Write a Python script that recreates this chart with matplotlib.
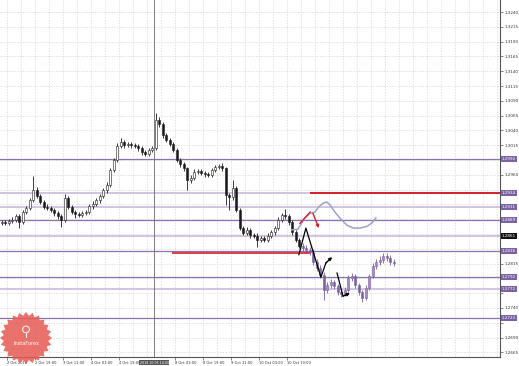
import numpy as np
import matplotlib
matplotlib.use("Agg")
import matplotlib.pyplot as plt
from matplotlib.patches import Polygon, Circle

# ===== DADOS =====
hist_open0 = 1.2883
hist_close = [1.2885, 1.2884, 1.2887, 1.2889, 1.2895, 1.2885, 1.2902, 1.2909, 1.2922, 1.2939,
              1.2929, 1.2919, 1.2911, 1.2909, 1.2906, 1.2900, 1.2895, 1.2889, 1.2926, 1.2911,
              1.2902, 1.2899, 1.2897, 1.2900, 1.2902, 1.2912, 1.2916, 1.2922, 1.2929, 1.2939,
              1.2948, 1.2973, 1.2990, 1.3014, 1.3020, 1.3015, 1.3017, 1.3015, 1.3014, 1.3010,
              1.3003, 1.3000, 1.3007, 1.3010, 1.3058, 1.3051, 1.3032, 1.3024, 1.3017, 1.3007,
              1.2990, 1.2983, 1.2976, 1.2956, 1.2960, 1.2970, 1.2971, 1.2968, 1.2966, 1.2965,
              1.2973, 1.2978, 1.2980, 1.2976, 1.2931, 1.2927, 1.2943, 1.2906, 1.2875, 1.2867,
              1.2872, 1.2863, 1.2862, 1.2855, 1.2858, 1.2855, 1.2862, 1.2868, 1.2875, 1.2889,
              1.2897, 1.2895, 1.2885, 1.2868, 1.2855, 1.2845]
hist_high = [1.2888, 1.2888, 1.2890, 1.2893, 1.2899, 1.2898, 1.2905, 1.2913, 1.2926, 1.2963,
             1.2945, 1.2932, 1.2922, 1.2915, 1.2913, 1.2909, 1.2904, 1.2898, 1.2933, 1.2929,
             1.2914, 1.2906, 1.2903, 1.2904, 1.2906, 1.2915, 1.2920, 1.2926, 1.2933, 1.2943,
             1.2953, 1.2977, 1.2994, 1.3018, 1.3027, 1.3024, 1.3021, 1.3021, 1.3019, 1.3017,
             1.3013, 1.3007, 1.3011, 1.3014, 1.3069, 1.3063, 1.3054, 1.3036, 1.3028, 1.3020,
             1.3010, 1.2994, 1.2987, 1.2979, 1.2964, 1.2974, 1.2975, 1.2975, 1.2971, 1.2970,
             1.2977, 1.2982, 1.2984, 1.2985, 1.2979, 1.2935, 1.2956, 1.2946, 1.2909, 1.2879,
             1.2876, 1.2875, 1.2867, 1.2866, 1.2862, 1.2862, 1.2866, 1.2872, 1.2879, 1.2893,
             1.2901, 1.2907, 1.2899, 1.2889, 1.2872, 1.2859]
hist_low = [1.2880, 1.2881, 1.2881, 1.2884, 1.2886, 1.2875, 1.2882, 1.2899, 1.2906, 1.2919,
            1.2925, 1.2915, 1.2907, 1.2905, 1.2902, 1.2896, 1.2890, 1.2877, 1.2886, 1.2907,
            1.2898, 1.2892, 1.2893, 1.2894, 1.2897, 1.2899, 1.2908, 1.2913, 1.2918, 1.2925,
            1.2935, 1.2945, 1.2969, 1.2987, 1.3010, 1.3011, 1.3012, 1.3011, 1.3010, 1.3006,
            1.2999, 1.2996, 1.2997, 1.3003, 1.3007, 1.3046, 1.3028, 1.3020, 1.3013, 1.3003,
            1.2986, 1.2979, 1.2972, 1.2939, 1.2951, 1.2956, 1.2966, 1.2964, 1.2962, 1.2961,
            1.2962, 1.2970, 1.2975, 1.2972, 1.2914, 1.2906, 1.2923, 1.2902, 1.2871, 1.2863,
            1.2863, 1.2859, 1.2858, 1.2843, 1.2851, 1.2851, 1.2852, 1.2858, 1.2864, 1.2871,
            1.2885, 1.2891, 1.2881, 1.2864, 1.2851, 1.2841]

# projeção (velas roxas)
proj_close = [1.2841, 1.2838, 1.2835, 1.2818, 1.2808, 1.2796, 1.2770, 1.2779, 1.2784, 1.2777,
              1.2767, 1.2764, 1.2770, 1.2791, 1.2794, 1.2779, 1.2767, 1.2757, 1.2774, 1.2794,
              1.2811, 1.2818, 1.2821, 1.2828, 1.2824, 1.2818, 1.2816]
proj_high = [1.2850, 1.2846, 1.2843, 1.2839, 1.2823, 1.2812, 1.2800, 1.2784, 1.2789, 1.2788,
             1.2781, 1.2772, 1.2775, 1.2796, 1.2799, 1.2798, 1.2783, 1.2771, 1.2779, 1.2798,
             1.2816, 1.2823, 1.2827, 1.2833, 1.2833, 1.2829, 1.2822]
proj_low = [1.2836, 1.2833, 1.2829, 1.2813, 1.2803, 1.2790, 1.2753, 1.2765, 1.2774, 1.2772,
            1.2762, 1.2759, 1.2760, 1.2766, 1.2786, 1.2774, 1.2762, 1.2750, 1.2753, 1.2770,
            1.2790, 1.2806, 1.2813, 1.2816, 1.2819, 1.2813, 1.2811]

# curva de previsão (azul acinzentado)
wave_x = [82.8, 84.6, 86.6, 88.1, 89.5, 90.6, 91.8, 92.9, 93.8, 95.2, 96.6, 98.6, 100.4, 102.4, 104.4, 105.8, 106.9]
wave_y = [1.2872, 1.2873, 1.2892, 1.2900, 1.2902, 1.2911, 1.2917, 1.2919, 1.2914, 1.2902,
          1.2892, 1.2880, 1.2875, 1.2875, 1.2878, 1.2884, 1.2892]

# setas
red_x1, red_y1 = [85.2, 88.1], [1.2883, 1.2902]
red_x2, red_y2 = [88.9, 90.6], [1.2900, 1.2875]
blk_x1, blk_y1 = [84.9, 86.9, 91.2, 92.6, 94.4], [1.2830, 1.2875, 1.2792, 1.2816, 1.2826]
blk_x2, blk_y2 = [95.8, 97.5, 99.5], [1.2799, 1.2760, 1.2765]

# níveis horizontais
levels_dark = [1.2992, 1.2889, 1.2836, 1.2792, 1.2723]
levels_light = [1.2934, 1.2911, 1.2861, 1.2772]
current_price = 1.2861
red_upper = (1.2934, 88.1)          # preço, início
red_lower = (1.2833, 48.6, 88.1)    # preço, início, fim

# eixos
y_ticks = [round(1.3240 - 0.0025 * k, 4) for k in range(24)]
x_tick_pos = [1.5, 9.5, 17.5, 25.5, 33.5, 49.5, 57.5, 65.5, 73.5, 81.5]
x_tick_lab = ["2 Oct 2018", "2 Oct 19:00", "3 Oct 11:00", "4 Oct 03:00", "4 Oct 19:00",
              "8 Oct 03:00", "8 Oct 19:00", "9 Oct 11:00", "10 Oct 03:00", "10 Oct 19:00"]
marker_x = 43.6
marker_lab = "2018.10.05 14:00"

PURPLE = "#8a72b0"
LIGHT = "#cdbfe0"
RED = "#d41f2c"


def candles(ax, x, o, c, h, l, up, down, wick):
    x = np.asarray(x); o = np.asarray(o); c = np.asarray(c)
    ax.vlines(x, l, h, color=wick, linewidth=0.6, zorder=4)
    body = np.where(np.abs(c - o) < 0.00005, 0.00005, c - o)
    cols = [up if cc >= oo else down for oo, cc in zip(o, c)]
    ax.bar(x, body, bottom=o, width=0.7, color=cols, edgecolor=wick, linewidth=0.4, zorder=5)


def main():
    fig = plt.figure(figsize=(5.19, 3.66), dpi=100)
    ax = fig.add_axes([0, 9 / 366, 500 / 519, 357 / 366])
    ax.set_xlim(-0.5, 142.36)
    ax.set_ylim(1.26572, 1.32603)

    # grade
    for yv in y_ticks:
        ax.axhline(yv, color="#dccfdc", linestyle=(0, (2, 2)), linewidth=0.5, zorder=0)
    for xv in np.arange(1.5, 142.4, 4):
        ax.axvline(xv, color="#dccfdc", linestyle=(0, (2, 2)), linewidth=0.5, zorder=0)

    # níveis
    for lv in levels_dark:
        ax.axhline(lv, color=PURPLE, linewidth=0.9, zorder=1)
    for lv in levels_light:
        ax.axhline(lv, color=LIGHT, linewidth=1.3, zorder=1)
    ax.hlines(red_upper[0], red_upper[1], 142.36, color=RED, linewidth=1.4, zorder=6)
    ax.hlines(red_lower[0], red_lower[1], red_lower[2], color=RED, linewidth=1.2, zorder=6)

    ax.axvline(marker_x, color="#6a6a6a", linewidth=0.6, zorder=1)

    # velas
    n = len(hist_close)
    h_open = [hist_open0] + hist_close[:-1]
    candles(ax, np.arange(n), h_open, hist_close, hist_high, hist_low, "white", "#1a1a1a", "#1a1a1a")
    m = len(proj_close)
    p_open = [hist_close[-1]] + proj_close[:-1]
    candles(ax, np.arange(n, n + m), p_open, proj_close, proj_high, proj_low, "#a58cc2", "#7d5f9e", "#7d5f9e")

    ax.plot(wave_x, wave_y, color="#9aa2c8", linewidth=1.1, zorder=7)

    arr = dict(arrowstyle="-|>", mutation_scale=4, linewidth=1.0, shrinkA=0, shrinkB=0)
    ax.plot(red_x1, red_y1, color=RED, linewidth=1.0, zorder=8)
    ax.annotate("", xy=(red_x2[1], red_y2[1]), xytext=(red_x2[0], red_y2[0]),
                arrowprops=dict(arr, color=RED), zorder=8)
    ax.plot(blk_x1[:-1], blk_y1[:-1], color="black", linewidth=0.9, zorder=8)
    ax.annotate("", xy=(blk_x1[-1], blk_y1[-1]), xytext=(blk_x1[-2], blk_y1[-2]),
                arrowprops=dict(arr, color="black"), zorder=8)
    ax.plot(blk_x2[:-1], blk_y2[:-1], color="black", linewidth=0.9, zorder=8)
    ax.annotate("", xy=(blk_x2[-1], blk_y2[-1]), xytext=(blk_x2[-2], blk_y2[-2]),
                arrowprops=dict(arr, color="black"), zorder=8)

    # eixos
    for s in ["top", "left"]:
        ax.spines[s].set_visible(False)
    for s in ["right", "bottom"]:
        ax.spines[s].set_color("#555555")
        ax.spines[s].set_linewidth(0.8)
    ax.yaxis.tick_right()
    ax.set_yticks(y_ticks)
    # rótulos escondidos atrás das caixas de preço
    boxed = levels_dark + levels_light
    ax.set_yticklabels(["" if min(abs(v - b) for b in boxed) < 0.0008 else f"{v:.4f}" for v in y_ticks])
    ax.tick_params(axis="y", length=2, width=0.5, colors="#555555", labelsize=3, pad=1,
                   labelcolor="#333333")
    ax.set_xticks(x_tick_pos)
    ax.set_xticklabels(x_tick_lab)
    ax.tick_params(axis="x", length=2, width=0.5, colors="#555555", labelsize=2.6, pad=1,
                   labelcolor="#333333")
    for t in ax.get_xticklabels():
        t.set_ha("left")

    # caixas de preço
    box = dict(boxstyle="square,pad=0.25", linewidth=0)
    for lv in boxed:
        face = "#111111" if lv == current_price else "#7a62a4"
        ax.annotate(f"{lv:.4f}", xy=(1.0, lv), xycoords=("axes fraction", "data"),
                    xytext=(1.5, 0), textcoords="offset points", ha="left", va="center",
                    fontsize=3, color="white", bbox=dict(box, facecolor=face),
                    annotation_clip=False, zorder=10)
    ax.annotate(marker_lab, xy=(marker_x, 0), xycoords=("data", "axes fraction"),
                xytext=(0, -4), textcoords="offset points", ha="center", va="center",
                fontsize=2.3, color="white",
                bbox=dict(boxstyle="square,pad=0.15", linewidth=0, facecolor="#555555"),
                annotation_clip=False, zorder=10)

    # selo InstaForex
    lg = fig.add_axes([0, 2 / 366, 52 / 519, 52 / 366])
    lg.set_xlim(-1, 1); lg.set_ylim(-1, 1); lg.axis("off")
    ang = np.linspace(0, 2 * np.pi, 49)[:-1]
    rad = np.where(np.arange(48) % 2 == 0, 1.0, 0.86)
    lg.add_patch(Polygon(np.c_[rad * np.cos(ang), rad * np.sin(ang)], closed=True,
                         facecolor="#e65a52", edgecolor="none", alpha=0.85))
    lg.add_patch(Circle((0, 0.33), 0.13, facecolor="none", edgecolor="white", linewidth=0.7))
    lg.plot([0, 0], [0.2, 0.05], color="white", linewidth=0.7)
    lg.text(0, -0.22, "InstaForex", color="white", fontsize=3.6, ha="center", va="center")

    fig.savefig("out.png", dpi=100)


if __name__ == "__main__":
    main()
